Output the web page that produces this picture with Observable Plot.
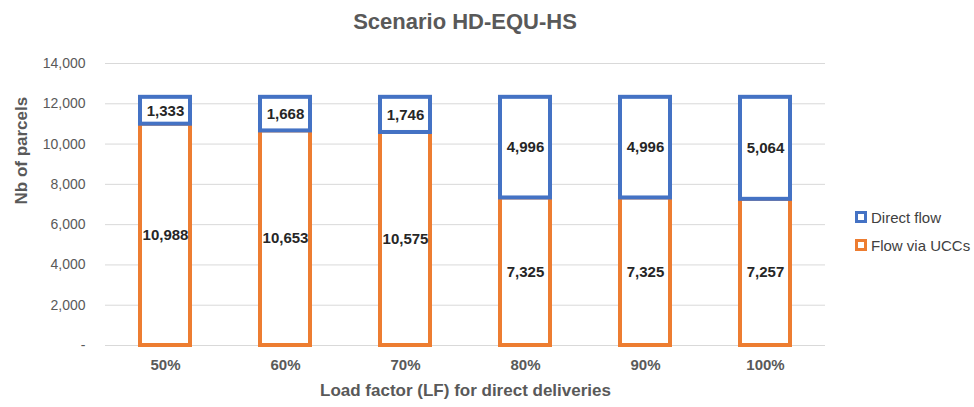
<!DOCTYPE html>
<html>
<head>
<meta charset="utf-8">
<script src="https://cdn.jsdelivr.net/npm/d3@7"></script>
<script src="https://cdn.jsdelivr.net/npm/@observablehq/plot@0.6"></script>
<style>
  body { margin: 0; background: #fff; font-family: "Liberation Sans", Arial, sans-serif; }
  #wrap { position: relative; width: 974px; height: 407px; overflow: hidden; }
  #title { height: 40px; line-height: 44px; text-align: center; width: 930px; font-size: 22px; font-weight: bold; color: #595959; }
  #legend { position: absolute; left: 855px; top: 203px; font-size: 15px; color: #404040; }
  .item { display: flex; align-items: center; height: 28px; }
  .sw { width: 6px; height: 6px; border: 3px solid; background: #fff; margin-right: 4px; }
</style>
</head>
<body>
<div id="wrap">
  <div id="title">Scenario HD-EQU-HS</div>
  <div id="chart"></div>
  <div id="legend"></div>
</div>
<script>
const categories = ["50%", "60%", "70%", "80%", "90%", "100%"];
const seriesNames = ["Flow via UCCs", "Direct flow"];
const flowViaUCCs = [10988, 10653, 10575, 7325, 7325, 7257];
const directFlow = [1333, 1668, 1746, 4996, 4996, 5064];
const yTicks = [0, 2000, 4000, 6000, 8000, 10000, 12000, 14000];
const colors = ["#ED7D31", "#4472C4"];

const data = [];
categories.forEach((c, i) => data.push({cat: c, series: seriesNames[0], value: flowViaUCCs[i]}));
categories.forEach((c, i) => data.push({cat: c, series: seriesNames[1], value: directFlow[i]}));

const fmt = d3.format(",");
const font = '"Liberation Sans", Arial, sans-serif';

const chart = Plot.plot({
  width: 974,
  height: 367,
  marginLeft: 105,
  marginRight: 149,
  marginTop: 23,
  marginBottom: 62,
  style: {fontFamily: font, fontSize: "14px", color: "#595959", background: "#fff"},
  x: {domain: categories, paddingInner: 0.58, paddingOuter: 0.29, label: null},
  y: {domain: [0, 14000], label: null},
  color: {domain: seriesNames, range: colors},
  marks: [
    Plot.gridY(yTicks, {stroke: "#d9d9d9", strokeOpacity: 1, strokeWidth: 1}),
    Plot.axisY({ticks: yTicks, tickFormat: d => d === 0 ? "-" : fmt(d), tickSize: 0, tickPadding: 20, label: null, fill: "#595959", fontSize: 14}),
    Plot.axisX({tickSize: 0, tickPadding: 14, label: null, fill: "#595959", fontSize: 15, fontWeight: "bold"}),
    Plot.barY(data, Plot.stackY({x: "cat", y: "value", stroke: "series", fill: "white", strokeWidth: 4, order: null})),
    Plot.text(data, Plot.stackY({x: "cat", y: "value", text: d => fmt(d.value), order: null, fill: "#262626", fontWeight: "bold", fontSize: 15})),
    Plot.text(["Nb of parcels"], {frameAnchor: "left", dx: -84, rotate: -90, text: d => d, fill: "#595959", fontWeight: "bold", fontSize: 17}),
    Plot.text(["Load factor (LF) for direct deliveries"], {frameAnchor: "bottom", dy: 50, text: d => d, fill: "#595959", fontWeight: "bold", fontSize: 17})
  ]
});
document.getElementById("chart").appendChild(chart);

const legend = document.getElementById("legend");
[1, 0].forEach(i => {
  const it = document.createElement("div");
  it.className = "item";
  const sw = document.createElement("span");
  sw.className = "sw";
  sw.style.borderColor = colors[i];
  it.appendChild(sw);
  it.appendChild(document.createTextNode(seriesNames[i]));
  legend.appendChild(it);
});
</script>
</body>
</html>
